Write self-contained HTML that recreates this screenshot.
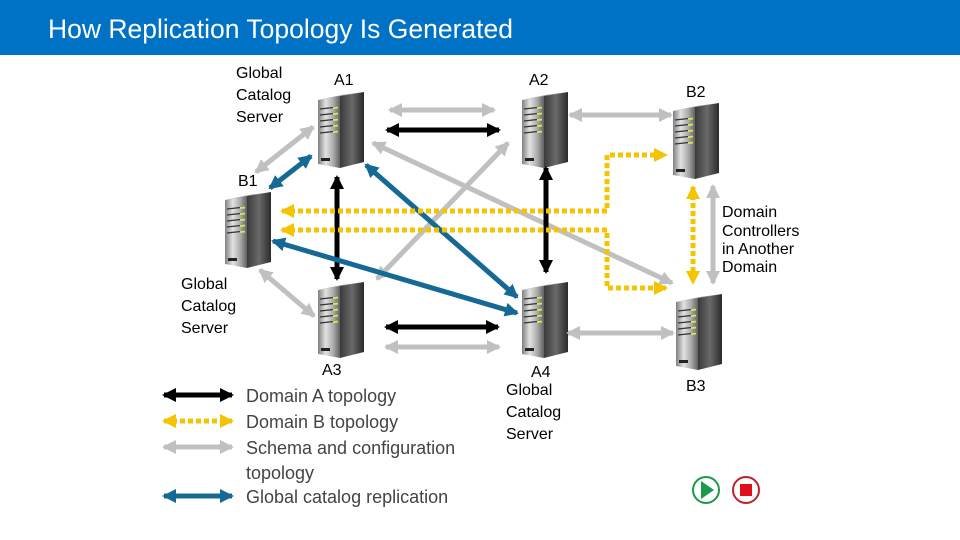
<!DOCTYPE html>
<html><head><meta charset="utf-8"><style>
html,body{margin:0;padding:0;background:#fff;}
body{width:960px;height:540px;overflow:hidden;position:relative;font-family:"Liberation Sans",sans-serif;}
svg{position:absolute;left:0;top:0;}
</style></head><body>
<svg width="960" height="540" viewBox="0 0 960 540" xmlns="http://www.w3.org/2000/svg">
<defs>
<linearGradient id="front" x1="0" x2="1" y1="0" y2="0">
<stop offset="0" stop-color="#808080"/><stop offset="0.35" stop-color="#e2e2e2"/><stop offset="0.7" stop-color="#aaaaaa"/><stop offset="1" stop-color="#606060"/>
</linearGradient>
<linearGradient id="side" x1="0" x2="1" y1="0" y2="0">
<stop offset="0" stop-color="#3a3a3a"/><stop offset="0.5" stop-color="#6a6a6a"/><stop offset="1" stop-color="#2a2a2a"/>
</linearGradient>
<g id="srv">
<polygon points="0,8 22,4 22,76 0,72" fill="url(#front)"/>
<polygon points="22,4 46,0 46,70 22,76" fill="url(#side)"/>
<polygon points="0,8 22,4 46,0 24,3" fill="#8a8a8a"/>
<g stroke="#333" stroke-width="1.2">
<line x1="2" y1="17" x2="20" y2="15"/><line x1="2" y1="23" x2="20" y2="21"/><line x1="2" y1="29" x2="20" y2="27"/><line x1="2" y1="35" x2="20" y2="33"/><line x1="2" y1="41" x2="20" y2="39"/>
</g>
<g stroke="#d8e25a" stroke-width="2">
<line x1="15" y1="16" x2="20" y2="15.5"/><line x1="15" y1="22" x2="20" y2="21.5"/><line x1="15" y1="28" x2="20" y2="27.5"/><line x1="15" y1="34" x2="20" y2="33.5"/><line x1="15" y1="40" x2="20" y2="39.5"/>
</g>
<rect x="3" y="66" width="9" height="3" fill="#222"/>
</g>
<marker id="mk" viewBox="0 0 14 14" refX="12" refY="7" markerWidth="14" markerHeight="14" markerUnits="userSpaceOnUse" orient="auto-start-reverse"><path d="M0,0 L14,7 L0,14 z" fill="#000"/></marker>
<marker id="mg" viewBox="0 0 14 14" refX="12" refY="7" markerWidth="14" markerHeight="14" markerUnits="userSpaceOnUse" orient="auto-start-reverse"><path d="M0,0 L14,7 L0,14 z" fill="#c0c0c0"/></marker>
<marker id="mb" viewBox="0 0 14 14" refX="12" refY="7" markerWidth="14" markerHeight="14" markerUnits="userSpaceOnUse" orient="auto-start-reverse"><path d="M0,0 L14,7 L0,14 z" fill="#166895"/></marker>
<marker id="my" viewBox="0 0 14 14" refX="12" refY="7" markerWidth="14" markerHeight="14" markerUnits="userSpaceOnUse" orient="auto-start-reverse"><path d="M0,0 L14,7 L0,14 z" fill="#f5c400"/></marker>
</defs>

<rect x="0" y="0" width="960" height="55" fill="#0072c6"/>
<text x="48" y="38" font-size="26.5" fill="#fff" font-family="Liberation Sans, sans-serif">How Replication Topology Is Generated</text>

<use href="#srv" x="318" y="92"/>
<use href="#srv" x="522" y="92"/>
<use href="#srv" x="673" y="103"/>
<use href="#srv" x="225" y="192"/>
<use href="#srv" x="318" y="282"/>
<use href="#srv" x="522" y="282"/>
<use href="#srv" x="676" y="294"/>

<g fill="none" stroke-width="5">
<g stroke="#c0c0c0">
<line x1="390" y1="110" x2="494" y2="110" marker-start="url(#mg)" marker-end="url(#mg)"/>
<line x1="570" y1="115" x2="671" y2="115" marker-start="url(#mg)" marker-end="url(#mg)"/>
<line x1="313" y1="127" x2="256" y2="172" marker-start="url(#mg)" marker-end="url(#mg)"/>
<line x1="373" y1="143" x2="672" y2="283" marker-start="url(#mg)" marker-end="url(#mg)"/>
<line x1="377" y1="279" x2="508" y2="143" marker-start="url(#mg)" marker-end="url(#mg)"/>
<line x1="713" y1="186" x2="713" y2="283" marker-start="url(#mg)" marker-end="url(#mg)"/>
<line x1="260" y1="270" x2="314" y2="316" marker-start="url(#mg)" marker-end="url(#mg)"/>
<line x1="386" y1="347" x2="499" y2="347" marker-start="url(#mg)" marker-end="url(#mg)"/>
<line x1="568" y1="333" x2="673" y2="333" marker-start="url(#mg)" marker-end="url(#mg)"/>
</g>
<g stroke="#000">
<line x1="387" y1="130" x2="499" y2="130" marker-start="url(#mk)" marker-end="url(#mk)"/>
<line x1="337" y1="177" x2="337" y2="279" marker-start="url(#mk)" marker-end="url(#mk)"/>
<line x1="546" y1="168" x2="546" y2="272" marker-start="url(#mk)" marker-end="url(#mk)"/>
<line x1="386" y1="327" x2="498" y2="327" marker-start="url(#mk)" marker-end="url(#mk)"/>
</g>
<g stroke="#166895">
<line x1="311" y1="156" x2="270" y2="188" marker-start="url(#mb)" marker-end="url(#mb)"/>
<line x1="366" y1="165" x2="517" y2="297" marker-start="url(#mb)" marker-end="url(#mb)"/>
<line x1="273" y1="241" x2="517" y2="313" marker-start="url(#mb)" marker-end="url(#mb)"/>
</g>
<g stroke="#f5c400" stroke-dasharray="5 3">
<polyline points="282,211 607,211 607,155 666,155" marker-start="url(#my)" marker-end="url(#my)"/>
<polyline points="282,230 607,230 607,288 666,288" marker-start="url(#my)" marker-end="url(#my)"/>
<line x1="693" y1="187" x2="693" y2="283" marker-start="url(#my)" marker-end="url(#my)"/>
</g>
<line x1="164" y1="395" x2="232" y2="395" stroke="#000" marker-start="url(#mk)" marker-end="url(#mk)"/>
<line x1="164" y1="421" x2="232" y2="421" stroke="#f5c400" stroke-dasharray="5 3" marker-start="url(#my)" marker-end="url(#my)"/>
<line x1="164" y1="447" x2="232" y2="447" stroke="#c0c0c0" marker-start="url(#mg)" marker-end="url(#mg)"/>
<line x1="164" y1="496" x2="232" y2="496" stroke="#166895" marker-start="url(#mb)" marker-end="url(#mb)"/>
</g>

<g font-family="Liberation Sans, sans-serif" font-size="16" fill="#000">
<text x="236" y="78">Global</text><text x="236" y="100">Catalog</text><text x="236" y="122">Server</text>
<text x="334" y="85">A1</text>
<text x="529" y="85">A2</text>
<text x="686" y="97">B2</text>
<text x="238" y="186">B1</text>
<text x="722" y="217">Domain</text><text x="722" y="236">Controllers</text><text x="722" y="254">in Another</text><text x="722" y="272">Domain</text>
<text x="181" y="289">Global</text><text x="181" y="311">Catalog</text><text x="181" y="333">Server</text>
<text x="322" y="375">A3</text>
<text x="531" y="377">A4</text>
<text x="506" y="395">Global</text><text x="506" y="417">Catalog</text><text x="506" y="439">Server</text>
<text x="686" y="391">B3</text>
</g>
<g font-family="Liberation Sans, sans-serif" font-size="18" fill="#444">
<text x="246" y="402">Domain A topology</text>
<text x="246" y="428">Domain B topology</text>
<text x="246" y="454">Schema and configuration</text>
<text x="246" y="479">topology</text>
<text x="246" y="503">Global catalog replication</text>
</g>

<circle cx="706" cy="490" r="13" fill="#fff" stroke="#1a9a4a" stroke-width="2"/>
<polygon points="701,481 701,499 714,490" fill="#1a9a4a"/>
<circle cx="746" cy="490" r="13" fill="#fff" stroke="#c0202a" stroke-width="2"/>
<rect x="740" y="484" width="12" height="12" fill="#e0101a"/>
</svg>
</body></html>
